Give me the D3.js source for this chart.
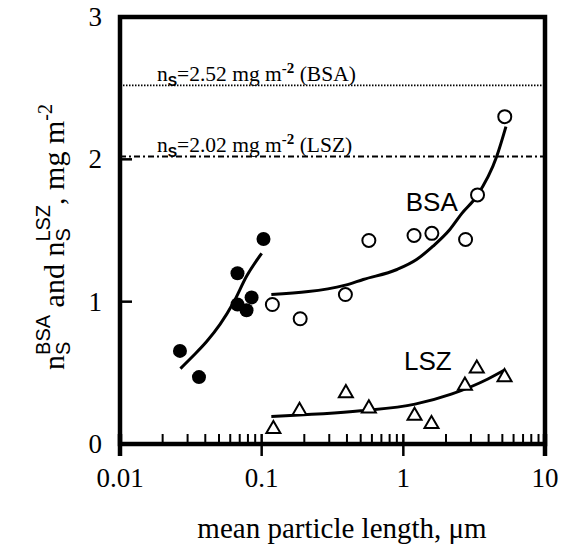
<!DOCTYPE html>
<html>
<head>
<meta charset="utf-8">
<script src="https://cdn.jsdelivr.net/npm/d3@7"></script>
<style>
  body { margin: 0; background: #fff; }
  svg { display: block; }
  .serif { font-family: "Liberation Serif", "Times New Roman", serif; }
  .sans { font-family: "Liberation Sans", Arial, sans-serif; }
</style>
</head>
<body>
<svg width="566" height="550"></svg>
<script>
// particle length (um) vs adsorbed amount (mg m^-2)
const filledX = [0.0265, 0.0361, 0.0675, 0.0675, 0.0782, 0.0849, 0.103];
const filledY = [0.654, 0.47, 1.20, 0.98, 0.94, 1.03, 1.44];

const bsaX = [0.119, 0.187, 0.39, 0.571, 1.19, 1.59, 2.75, 3.34, 5.2];
const bsaY = [0.98, 0.88, 1.05, 1.43, 1.465, 1.48, 1.437, 1.75, 2.30];

const lszX = [0.121, 0.185, 0.393, 0.571, 1.2, 1.58, 2.72, 3.3, 5.18];
const lszY = [0.105, 0.233, 0.357, 0.25, 0.198, 0.14, 0.41, 0.53, 0.47];

// fitted curves
const fitFilledX = [0.0267, 0.0329, 0.0409, 0.0508, 0.063, 0.0784, 0.1];
const fitFilledY = [0.53, 0.62, 0.72, 0.84, 0.99, 1.18, 1.34];
const fitBsaX = [0.117, 0.39, 0.521, 0.902, 1.24, 1.62, 2.13, 2.59, 3.29, 4.56, 5.3];
const fitBsaY = [1.05, 1.116, 1.156, 1.226, 1.296, 1.39, 1.507, 1.62, 1.74, 2.02, 2.23];
const fitLszX = [0.117, 0.5, 1.21, 2.18, 3.92, 5.18];
const fitLszY = [0.194, 0.233, 0.28, 0.35, 0.455, 0.52];

const limitBSA = 2.52;
const limitLSZ = 2.02;

const xTicks = [0.01, 0.1, 1, 10];
const xTickLabels = ['0.01', '0.1', '1', '10'];
const yTicks = [0, 1, 2, 3];

const svg = d3.select('svg');
const margin = { top: 17, left: 120, right: 21, bottom: 106 };
const width = +svg.attr('width');
const height = +svg.attr('height');

// scales in page coordinates
const x = d3.scaleLog().domain([0.01, 10]).range([margin.left, width - margin.right]);
const y = d3.scaleLinear().domain([0, 3]).range([height - margin.bottom, margin.top]);
const x0 = margin.left, x1 = width - margin.right;
const y0 = height - margin.bottom, y1 = margin.top;

const zip = (xs, ys) => xs.map((v, i) => ({ x: v, y: ys[i] }));

// minor ticks (inward) on x
const minor = [];
[0.01, 0.1, 1].forEach(d => { for (let k = 2; k <= 9; k++) minor.push(d * k); });
svg.selectAll('.minor').data(minor).enter().append('line')
  .attr('x1', d => x(d)).attr('x2', d => x(d))
  .attr('y1', y0).attr('y2', y0 - 10)
  .attr('stroke', '#000').attr('stroke-width', 2);

// major ticks cross the axis
svg.selectAll('.major').data(xTicks).enter().append('line')
  .attr('x1', d => x(d)).attr('x2', d => x(d))
  .attr('y1', y0 + 12).attr('y2', y0 - 10)
  .attr('stroke', '#000').attr('stroke-width', d => (d === 0.01 || d === 10) ? 4.5 : 2.5);

svg.selectAll('.xlab').data(xTicks).enter().append('text')
  .attr('class', 'serif')
  .attr('x', d => x(d)).attr('y', y0 + 43)
  .attr('text-anchor', 'middle')
  .attr('font-size', 27)
  .text((d, i) => xTickLabels[i]);

// y ticks
svg.selectAll('.ytick').data([1, 2]).enter().append('line')
  .attr('x1', x0).attr('x2', x0 + 12)
  .attr('y1', d => y(d)).attr('y2', d => y(d))
  .attr('stroke', '#000').attr('stroke-width', 2.5);

svg.selectAll('.ylab').data(yTicks).enter().append('text')
  .attr('class', 'serif')
  .attr('x', x0 - 18).attr('y', d => y(d) + 9)
  .attr('text-anchor', 'end')
  .attr('font-size', 27)
  .text(d => d);

// frame
svg.append('rect')
  .attr('x', x0).attr('y', y1)
  .attr('width', x1 - x0).attr('height', y0 - y1)
  .attr('fill', 'none').attr('stroke', '#000').attr('stroke-width', 4.5);

// limit lines
svg.append('line')
  .attr('x1', x0).attr('x2', x1)
  .attr('y1', y(limitBSA)).attr('y2', y(limitBSA))
  .attr('stroke', '#000').attr('stroke-width', 1.8)
  .attr('stroke-dasharray', '1.5,1.5');
svg.append('line')
  .attr('x1', x0).attr('x2', x1)
  .attr('y1', y(limitLSZ)).attr('y2', y(limitLSZ))
  .attr('stroke', '#000').attr('stroke-width', 1.8)
  .attr('stroke-dasharray', '6,3,2,3');

const note = (val, tag) => {
  const t = svg.append('text').attr('class', 'serif')
    .attr('x', x0 + 37).attr('y', y(val) - 4).attr('font-size', 21.5);
  t.append('tspan').text('n');
  t.append('tspan').attr('class', 'sans').attr('font-size', 14).attr('font-weight', 'bold')
    .attr('dy', 5).text('S');
  t.append('tspan').attr('dy', -5).text(`=${val.toFixed(2)} mg m`);
  t.append('tspan').attr('font-size', 15).attr('font-weight', 'bold').attr('dy', -8).text('-2');
  t.append('tspan').attr('dy', 8).text(` (${tag})`);
};
note(limitBSA, 'BSA');
note(limitLSZ, 'LSZ');

// fitted curves
const line = d3.line().x(d => x(d.x)).y(d => y(d.y)).curve(d3.curveMonotoneX);
[[fitFilledX, fitFilledY], [fitBsaX, fitBsaY], [fitLszX, fitLszY]].forEach(([xs, ys]) => {
  svg.append('path').datum(zip(xs, ys))
    .attr('d', line)
    .attr('fill', 'none').attr('stroke', '#000').attr('stroke-width', 3);
});

// markers
svg.selectAll('.filled').data(zip(filledX, filledY)).enter().append('circle')
  .attr('cx', d => x(d.x)).attr('cy', d => y(d.y)).attr('r', 7)
  .attr('fill', '#000');

svg.selectAll('.open').data(zip(bsaX, bsaY)).enter().append('circle')
  .attr('cx', d => x(d.x)).attr('cy', d => y(d.y)).attr('r', 6.5)
  .attr('fill', '#fff').attr('stroke', '#000').attr('stroke-width', 2);

const tri = d3.symbol().type(d3.symbolTriangle).size(85);
svg.selectAll('.tri').data(zip(lszX, lszY)).enter().append('path')
  .attr('d', tri)
  .attr('transform', d => `translate(${x(d.x)},${y(d.y)})`)
  .attr('fill', '#fff').attr('stroke', '#000').attr('stroke-width', 2);

// series labels
svg.append('text').attr('class', 'sans').attr('font-size', 26)
  .attr('x', x(1.04)).attr('y', y(1.64)).text('BSA');
svg.append('text').attr('class', 'sans').attr('font-size', 26)
  .attr('x', x(1.01)).attr('y', y(0.52)).text('LSZ');

// axis titles
svg.append('text').attr('class', 'serif')
  .attr('x', 342).attr('y', 538)
  .attr('text-anchor', 'middle').attr('font-size', 29)
  .text('mean particle length,  \u03bcm');

// y title built piece by piece; local coords kept positive, group maps
// local (400, 300) onto the page point (64, 237)
const yg = svg.append('g').attr('transform', 'translate(-236,637) rotate(-90)');
const pieces = [
  { t: 'n', cls: 'serif', fs: 30, dy: 0 },
  { t: 'S', cls: 'sans', fs: 20, dy: 6, stack: true },
  { t: 'BSA', cls: 'sans', fs: 20, dy: -14 },
  { t: '\u00a0and n', cls: 'serif', fs: 30, dy: 0 },
  { t: 'S', cls: 'sans', fs: 20, dy: 6, stack: true },
  { t: 'LSZ', cls: 'sans', fs: 20, dy: -14 },
  { t: ', mg m', cls: 'serif', fs: 30, dy: 0 },
  { t: '-2', cls: 'serif', fs: 20, dy: -12 }
];
let cursor = 0;
const nodes = pieces.map(p => {
  const el = yg.append('text').attr('class', p.cls)
    .attr('font-size', p.fs).attr('x', cursor).attr('y', 300 + p.dy).text(p.t);
  const w = el.node().getComputedTextLength();
  if (!p.stack) cursor += w;
  return el;
});
const total = cursor;
nodes.forEach(el => el.attr('x', +el.attr('x') + 400 - total / 2));
</script>
</body>
</html>
